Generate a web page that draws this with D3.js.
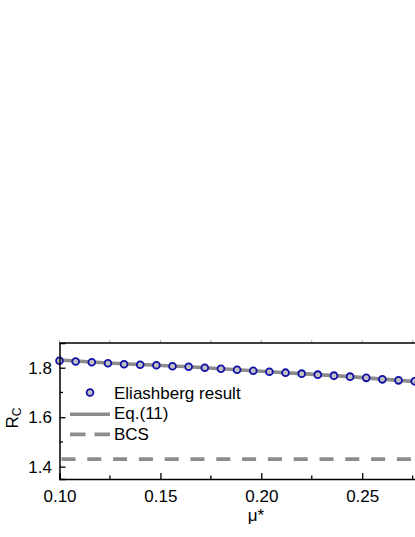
<!DOCTYPE html>
<html>
<head>
<meta charset="utf-8">
<script src="https://cdn.jsdelivr.net/npm/d3@7"></script>
<style>
  html, body { margin: 0; padding: 0; background: #fff; overflow: hidden; }
  svg { display: block; font-family: "Liberation Sans", Arial, sans-serif; }
</style>
</head>
<body>
<svg id="chart" width="415" height="537"></svg>
<script>
// mu* values and Eliashberg R_C results
const mu = [0.100, 0.108, 0.116, 0.124, 0.132, 0.140, 0.148, 0.156, 0.164, 0.172,
            0.180, 0.188, 0.196, 0.204, 0.212, 0.220, 0.228, 0.236, 0.244, 0.252,
            0.260, 0.268, 0.276];
const rcEliash = [1.828, 1.825, 1.822, 1.818, 1.814, 1.812, 1.810, 1.806, 1.804, 1.800,
                  1.796, 1.792, 1.788, 1.784, 1.780, 1.776, 1.772, 1.768, 1.764, 1.759,
                  1.753, 1.749, 1.745];
const rcEq11 = [1.831, 1.827, 1.823, 1.819, 1.816, 1.813, 1.810, 1.807, 1.804, 1.800,
                1.796, 1.792, 1.788, 1.784, 1.780, 1.776, 1.772, 1.768, 1.764, 1.759,
                1.754, 1.749, 1.744];
const bcs = 1.43;
const xTicks = [0.10, 0.15, 0.20, 0.25, 0.30];
const xMinor = [0.125, 0.175, 0.225, 0.275];
const yTicks = [1.4, 1.6, 1.8];
const yMinor = [1.5, 1.7];

const svg = d3.select("#chart");
const plotLeft = 59.5, plotTop = 343, plotBottom = 479;

const x = d3.scaleLinear().domain([0.10, 0.30]).range([plotLeft, plotLeft + 403.6]);
const y = d3.scaleLinear().domain([1.35, 1.9]).range([plotBottom, plotTop]);

const fs = 17;
const grey = "#8c8c8c";

// eq.(11) line
svg.append("path")
  .datum(mu.map((m, i) => [m, rcEq11[i]]))
  .attr("fill", "none")
  .attr("stroke", grey)
  .attr("stroke-width", 3.6)
  .attr("d", d3.line().x(d => x(d[0])).y(d => y(d[1])));

// BCS line
svg.append("line")
  .attr("x1", x(0.10)).attr("x2", x(0.30))
  .attr("y1", y(bcs)).attr("y2", y(bcs))
  .attr("stroke", grey)
  .attr("stroke-width", 3.8)
  .attr("stroke-dasharray", "14,11.8")
  .attr("stroke-dashoffset", -2);

// Eliashberg points
svg.append("g")
  .selectAll("circle")
  .data(mu)
  .join("circle")
  .attr("cx", d => x(d))
  .attr("cy", (d, i) => y(rcEliash[i]))
  .attr("r", 3.4)
  .attr("fill", "#c0c0c0")
  .attr("stroke", "#1010a8")
  .attr("stroke-width", 1.8);

// axes (ticks inward)
const xAxis = svg.append("g")
  .attr("transform", `translate(0,${plotBottom})`)
  .call(d3.axisBottom(x).tickValues(xTicks).tickSize(-6).tickPadding(10.5)
    .tickFormat(d3.format(".2f")));
xAxis.selectAll(".tick").filter(d => d > 0.29).remove();
xAxis.append("g").selectAll("line")
  .data(xMinor).join("line")
  .attr("x1", d => x(d)).attr("x2", d => x(d))
  .attr("y1", 0).attr("y2", -3.5)
  .attr("stroke", "#000").attr("stroke-width", 1.3);

const yAxis = svg.append("g")
  .attr("transform", `translate(${plotLeft},0)`)
  .call(d3.axisLeft(y).tickValues(yTicks).tickSize(-6).tickPadding(7.5)
    .tickFormat(d3.format(".1f")));
yAxis.append("g").selectAll("line")
  .data(yMinor).join("line")
  .attr("x1", 0).attr("x2", 3.5)
  .attr("y1", d => y(d)).attr("y2", d => y(d))
  .attr("stroke", "#000").attr("stroke-width", 1.3);

[xAxis, yAxis].forEach(a => {
  a.select(".domain").attr("stroke-width", 1.5);
  a.selectAll(".tick line").attr("stroke-width", 1.3);
  a.selectAll(".tick text").attr("font-size", fs).attr("fill", "#000")
    .attr("font-family", "'Liberation Sans', Arial, sans-serif");
});

// top spine with faint outside ticks
svg.append("g").selectAll("line")
  .data(xTicks.concat(xMinor)).join("line")
  .attr("x1", d => x(d)).attr("x2", d => x(d))
  .attr("y1", plotTop).attr("y2", plotTop - 3)
  .attr("stroke", "#aaa").attr("stroke-width", 1);
svg.append("line")
  .attr("x1", plotLeft).attr("x2", 415)
  .attr("y1", plotTop).attr("y2", plotTop)
  .attr("stroke", "#000").attr("stroke-width", 1.5);

// axis titles
svg.append("text")
  .attr("x", 256).attr("y", 521)
  .attr("text-anchor", "middle")
  .attr("font-size", fs)
  .text("μ*");

const rLabel = svg.append("text")
  .attr("transform", `translate(18,418) rotate(-90)`)
  .attr("text-anchor", "middle")
  .attr("font-size", fs);
rLabel.append("tspan").text("R");
rLabel.append("tspan").attr("font-size", 12).attr("dy", 3).text("C");

// legend
const lg = svg.append("g");
lg.append("circle").attr("cx", 90).attr("cy", 392.5).attr("r", 3.4)
  .attr("fill", "#c0c0c0").attr("stroke", "#1010a8").attr("stroke-width", 1.8);
lg.append("text").attr("x", 114).attr("y", 398.5).attr("font-size", fs).text("Eliashberg result");
lg.append("line").attr("x1", 70).attr("x2", 110).attr("y1", 414.3).attr("y2", 414.3)
  .attr("stroke", grey).attr("stroke-width", 3.6);
lg.append("text").attr("x", 114).attr("y", 419).attr("font-size", fs).text("Eq.(11)");
lg.append("line").attr("x1", 70).attr("x2", 110).attr("y1", 434.3).attr("y2", 434.3)
  .attr("stroke", grey).attr("stroke-width", 3.8).attr("stroke-dasharray", "15.5,9");
lg.append("text").attr("x", 114).attr("y", 440).attr("font-size", fs).text("BCS");
</script>
</body>
</html>
